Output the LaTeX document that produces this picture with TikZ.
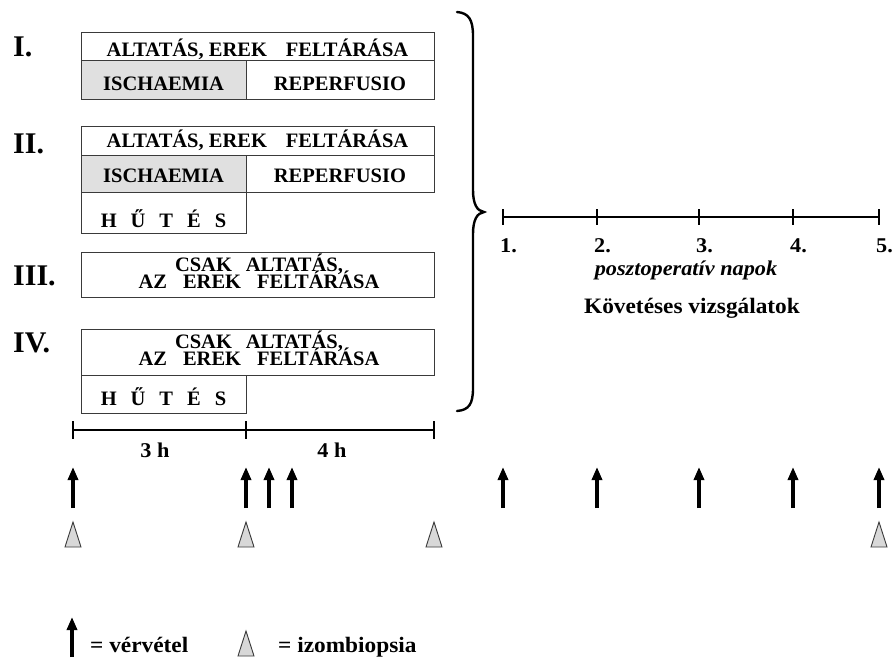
\documentclass[tikz,border=0pt]{standalone}
\usepackage{fontspec}
\setmainfont{Liberation Serif}[FakeStretch=1.06]
\newfontfamily\labelfont{Liberation Serif}
\newfontfamily\boxfont{Liberation Serif}
\usetikzlibrary{arrows.meta}
\newcommand\tightlines{\lineskiplimit=-30pt\relax\lineskip=0pt\relax}
\definecolor{boxline}{HTML}{3A3A3A}
\definecolor{ischfill}{HTML}{E0E0E0}
\definecolor{biofill}{HTML}{D8D8D8}
\tikzset{
  box/.style={draw=boxline, line width=1.1pt, inner sep=0pt, anchor=north west},
  txt/.style={font=\bfseries\fontsize{21}{21}\selectfont, inner sep=0pt, anchor=base},
  btxt/.style={font=\boxfont\bfseries\fontsize{20.5}{20.5}\selectfont, inner sep=0pt, anchor=base},
  twoline/.style={font=\boxfont\bfseries\fontsize{20.5}{17}\selectfont\tightlines, inner sep=0pt, align=center, anchor=south},
  lowtxt/.style={font=\bfseries\fontsize{22}{22}\selectfont, inner sep=0pt, anchor=base},
  numlabel/.style={font=\labelfont\bfseries\fontsize{30}{30}\selectfont, inner sep=0pt, anchor=base west},
  tl/.style={line width=2.6pt},
  tickmark/.style={line width=2pt},
  varrow/.style={line width=4pt, -{Triangle[width=10pt,length=13pt]}},
  bracestyle/.style={line width=2.4pt, line cap=round},
  bio/.pic={\draw[draw=boxline, fill=biofill, line width=0.9pt] (-8,0) -- (0,-25) -- (8,0) -- cycle;}
}
\begin{document}
\begin{tikzpicture}[x=1pt,y=-1pt]
\useasboundingbox (0,0) rectangle (894,657);

% group labels
\node[numlabel] (lI) at (13,56) {I.};
\node[numlabel] (lII) at (13,153) {II.};
\node[numlabel] (lIII) at (13,285) {III.};
\node[numlabel] (lIV) at (13,352) {IV.};

% group I
\node[box, minimum width=353pt, minimum height=28pt] (r1a) at (81,32) {};
\node[box, fill=ischfill, minimum width=165pt, minimum height=39pt] (r1b) at (81,60) {};
\node[box, minimum width=188pt, minimum height=39pt] (r1c) at (246,60) {};
\node[btxt] (t1a) at (257.5,56.5) {ALTATÁS, EREK\hspace{19pt}FELTÁRÁSA};
\node[btxt] (t1b) at (163.5,90.5) {ISCHAEMIA};
\node[btxt] (t1c) at (340,90.5) {REPERFUSIO};

% group II
\node[box, minimum width=353pt, minimum height=29pt] (r2a) at (81,126) {};
\node[box, fill=ischfill, minimum width=165pt, minimum height=37pt] (r2b) at (81,155) {};
\node[box, minimum width=188pt, minimum height=37pt] (r2c) at (246,155) {};
\node[box, minimum width=165pt, minimum height=41pt] (r2d) at (81,192) {};
\node[btxt] (t2a) at (257.5,147.5) {ALTATÁS, EREK\hspace{19pt}FELTÁRÁSA};
\node[btxt] (t2b) at (163.5,182.5) {ISCHAEMIA};
\node[btxt] (t2c) at (340,182.5) {REPERFUSIO};
\node[btxt] (t2d) at (163.5,227) {H\hspace{14pt}Ű\hspace{14pt}T\hspace{14pt}É\hspace{14pt}S};

% group III
\node[box, minimum width=353pt, minimum height=45pt] (r3) at (81,252) {};
\node[twoline] (t3) at (259,289) {CSAK\hspace{14pt}ALTATÁS,\\AZ\hspace{16pt}EREK\hspace{16pt}FELTÁRÁSA};

% group IV
\node[box, minimum width=353pt, minimum height=46pt] (r4) at (81,329) {};
\node[box, minimum width=165pt, minimum height=38pt] (r4h) at (81,375) {};
\node[twoline] (t4) at (259,366) {CSAK\hspace{14pt}ALTATÁS,\\AZ\hspace{16pt}EREK\hspace{16pt}FELTÁRÁSA};
\node[btxt] (t4h) at (163.5,405) {H\hspace{14pt}Ű\hspace{14pt}T\hspace{14pt}É\hspace{14pt}S};

% brace
\draw[bracestyle] (457,12) .. controls (469,13) and (473,20) .. (473,36)
  -- (473,190) .. controls (473,204) and (477,211) .. (484,212)
  .. controls (477,213) and (473,220) .. (473,234)
  -- (473,388) .. controls (473,404) and (469,410) .. (457,411);

% hour timeline
\coordinate (h0) at (73,430);
\coordinate (h3) at (246,430);
\coordinate (h7) at (434,430);
\draw[tl] (h0) -- (h7);
\foreach \c in {h0,h3,h7} \draw[tickmark] ([yshift=9pt]\c) -- ([yshift=-9pt]\c);
\node[txt] (l3h) at (155,457) {3 h};
\node[txt] (l4h) at (332,457) {4 h};

% day axis
\coordinate (d1) at (503,217);
\coordinate (d2) at (597,217);
\coordinate (d3) at (699,217);
\coordinate (d4) at (793,217);
\coordinate (d5) at (879,217);
\draw[tl] (d1) -- (d5);
\foreach \c in {d1,d2,d3,d4,d5} \draw[tickmark] ([yshift=8pt]\c) -- ([yshift=-8pt]\c);
\foreach \c/\t in {d1/1.,d2/2.,d3/3.,d4/4.,d5/5.}
  \node[txt, anchor=base west] (n\c) at ([xshift=-3pt,yshift=-35pt]\c) {\t};
\node[lowtxt, font=\bfseries\itshape\fontsize{21}{21}\selectfont] (post) at (686,275) {posztoperatív napok};
\node[lowtxt] (kov) at (692,313) {Követéses vizsgálatok};

% blood sampling arrows
\foreach \x [count=\i] in {73,246,269,292,503,597,699,793,879} {
  \coordinate (ab\i) at (\x,508);
  \coordinate (at\i) at (\x,467);
  \draw[varrow] (ab\i) -- (at\i);
}
% biopsies
\foreach \x [count=\i] in {73,246,434,879} {
  \coordinate (b\i) at (\x,547);
  \pic at (b\i) {bio};
}

% legend
\coordinate (lgab) at (72,657);
\coordinate (lgat) at (72,617);
\draw[varrow] (lgab) -- (lgat);
\node[lowtxt, anchor=base west] (lgv) at (90,652) {= vérvétel};
\coordinate (lgb) at (246,656);
\pic at (lgb) {bio};
\node[lowtxt, anchor=base west] (lgi) at (278,652) {= izombiopsia};
\end{tikzpicture}
\end{document}
